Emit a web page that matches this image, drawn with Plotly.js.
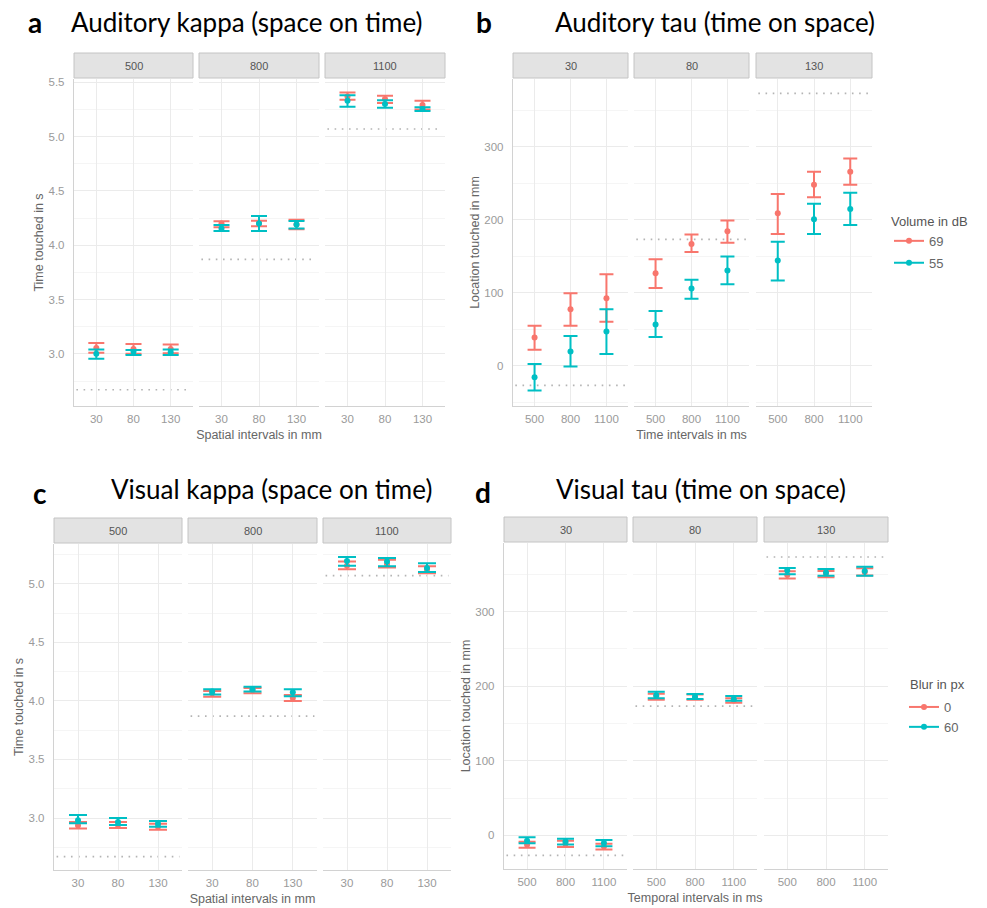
<!DOCTYPE html>
<html>
<head>
<meta charset="utf-8">
<script src="https://cdn.plot.ly/plotly-3.0.1.min.js"></script>
<style>html,body{margin:0;padding:0;background:#fff;}#chart{width:987px;height:908px;}</style>
</head>
<body>
<div id="chart"></div>
<script>
// ---------------- DATA ----------------
const kappaXCats = ['30', '80', '130'];        // spatial intervals (mm)
const kappaFacets = ['500', '800', '1100'];    // facet labels (ms)
const tauXCats = ['500', '800', '1100'];       // temporal intervals (ms)
const tauFacets = ['30', '80', '130'];         // facet labels (mm)

const kappaRef = [2.67, 3.87, 5.07];           // dotted reference lines
const tauRef = [-26.7, 173.3, 373.3];

// a: Auditory kappa, volume 69 dB
const audKappa69Mean = [[3.055, 3.045, 3.045], [4.20, 4.205, 4.19], [5.37, 5.345, 5.29]];
const audKappa69Lo   = [[3.01, 3.00, 3.005],  [4.165, 4.175, 4.147], [5.34, 5.31, 5.25]];
const audKappa69Hi   = [[3.10, 3.09, 3.085],  [4.22, 4.225, 4.235],  [5.405, 5.375, 5.33]];
// a: Auditory kappa, volume 55 dB
const audKappa55Mean = [[3.00, 3.02, 3.015],  [4.155, 4.20, 4.19],   [5.33, 5.30, 5.255]];
const audKappa55Lo   = [[2.955, 2.99, 2.99],  [4.13, 4.13, 4.155],   [5.275, 5.265, 5.235]];
const audKappa55Hi   = [[3.04, 3.035, 3.04],  [4.185, 4.27, 4.222],  [5.38, 5.335, 5.27]];

// b: Auditory tau, volume 69 dB
const audTau69Mean = [[38.8, 77.6, 92.7], [127, 167, 184.5], [209, 248, 266]];
const audTau69Lo   = [[21.9, 54.8, 60.3], [106.8, 156, 168.5], [180.8, 231, 248]];
const audTau69Hi   = [[54.8, 99.5, 125.6], [146, 179.9, 199], [235.6, 266, 284]];
// b: Auditory tau, volume 55 dB
const audTau55Mean = [[-15.5, 19.6, 47], [56.6, 106, 130.6], [144.3, 201, 215]];
const audTau55Lo   = [[-33.8, -0.9, 16.4], [39.7, 92, 111.9], [116.9, 180.8, 193]];
const audTau55Hi   = [[2.7, 41, 77.6], [75, 118, 149.8], [169.9, 222, 237]];

// c: Visual kappa, blur 0 px
const visKappa0Mean = [[2.935, 2.94, 2.925], [4.065, 4.09, 4.025], [5.155, 5.17, 5.12]];
const visKappa0Lo   = [[2.91, 2.915, 2.90],  [4.035, 4.065, 4.00], [5.125, 5.14, 5.09]];
const visKappa0Hi   = [[2.965, 2.965, 2.95], [4.085, 4.11, 4.05],  [5.19, 5.205, 5.15]];
// c: Visual kappa, blur 60 px
const visKappa60Mean = [[2.98, 2.965, 2.95],  [4.08, 4.10, 4.075], [5.195, 5.19, 5.135]];
const visKappa60Lo   = [[2.955, 2.94, 2.925], [4.055, 4.08, 4.04], [5.155, 5.15, 5.10]];
const visKappa60Hi   = [[3.025, 3.00, 2.975], [4.10, 4.12, 4.10],  [5.23, 5.22, 5.175]];

// d: Visual tau, blur 0 px
const visTau0Mean = [[-12.5, -11, -15], [186, 185.5, 181], [349, 350, 353]];
const visTau0Lo   = [[-16.5, -15.5, -19], [182, 182, 178], [344.5, 346, 348.5]];
const visTau0Hi   = [[-8.5, -7, -11], [190, 189, 184], [354, 354.5, 358]];
// d: Visual tau, blur 60 px
const visTau60Mean = [[-7, -8, -10], [188, 186, 183], [355, 352.5, 354.5]];
const visTau60Lo   = [[-10.5, -12, -14.5], [184, 183, 180.5], [350, 348, 348]];
const visTau60Hi   = [[-2.5, -4.5, -6], [192.5, 189.5, 187], [358.5, 357, 360]];

// ---------------- LAYOUT HELPERS ----------------
const W = 987, H = 908;
const px = x => x / W;
const py = y => 1 - y / H;
const RED = '#F8766D', TEAL = '#00BFC4';
const FONT = 'Liberation Sans, Arial, sans-serif';
const TFONT = 'Lato, Open Sans, sans-serif';

const panels = [
  { letter: 'a', title: 'Auditory kappa (space on time)', letterPos: [35, 22], titlePos: [246, 22],
    facetsX: [[74, 193], [199, 319], [325, 445]], yTop: 79, yBot: 406, strip: [53, 78],
    yRange: [2.52, 5.53], dtick: 0.5, minor: 0.25, fmt: '.1f',
    xcats: kappaXCats, facetLabels: kappaFacets, ref: kappaRef, capW: 8,
    xTitle: 'Spatial intervals in mm', yTitle: 'Time touched in s',
    series: [
      { name: '69', color: RED, mean: audKappa69Mean, lo: audKappa69Lo, hi: audKappa69Hi },
      { name: '55', color: TEAL, mean: audKappa55Mean, lo: audKappa55Lo, hi: audKappa55Hi } ] },
  { letter: 'b', title: 'Auditory tau (time on space)', letterPos: [484, 22], titlePos: [715, 22],
    facetsX: [[513, 628], [634, 749], [756, 872]], yTop: 79, yBot: 406, strip: [53, 78],
    yRange: [-55, 393], dtick: 100, minor: 50, fmt: 'd',
    xcats: tauXCats, facetLabels: tauFacets, ref: tauRef, capW: 7,
    xTitle: 'Time intervals in ms', yTitle: 'Location touched in mm',
    legend: 'legend', legendTitle: 'Volume in dB',
    series: [
      { name: '69', color: RED, mean: audTau69Mean, lo: audTau69Lo, hi: audTau69Hi },
      { name: '55', color: TEAL, mean: audTau55Mean, lo: audTau55Lo, hi: audTau55Hi } ] },
  { letter: 'c', title: 'Visual kappa (space on time)', letterPos: [40, 493], titlePos: [271, 489],
    facetsX: [[54, 182], [188, 317], [323, 451]], yTop: 544, yBot: 870, strip: [518, 543],
    yRange: [2.556, 5.34], dtick: 0.5, minor: 0.25, fmt: '.1f',
    xcats: kappaXCats, facetLabels: kappaFacets, ref: kappaRef, capW: 9,
    xTitle: 'Spatial intervals in mm', yTitle: 'Time touched in s',
    series: [
      { name: '0', color: RED, mean: visKappa0Mean, lo: visKappa0Lo, hi: visKappa0Hi },
      { name: '60', color: TEAL, mean: visKappa60Mean, lo: visKappa60Lo, hi: visKappa60Hi } ] },
  { letter: 'd', title: 'Visual tau (time on space)', letterPos: [483, 492], titlePos: [701, 489],
    facetsX: [[504, 627], [633, 757], [764, 888]], yTop: 543, yBot: 869, strip: [517, 542],
    yRange: [-45, 392], dtick: 100, minor: 50, fmt: 'd',
    xcats: tauXCats, facetLabels: tauFacets, ref: tauRef, capW: 8.5,
    xTitle: 'Temporal intervals in ms', yTitle: 'Location touched in mm',
    legend: 'legend2', legendTitle: 'Blur in px',
    series: [
      { name: '0', color: RED, mean: visTau0Mean, lo: visTau0Lo, hi: visTau0Hi },
      { name: '60', color: TEAL, mean: visTau60Mean, lo: visTau60Lo, hi: visTau60Hi } ] }
];

const traces = [];
const layout = {
  width: W, height: H, margin: { l: 0, r: 0, t: 0, b: 0 },
  paper_bgcolor: '#fff', plot_bgcolor: '#fff',
  font: { family: FONT, color: '#555' },
  showlegend: true, shapes: [], annotations: [], hovermode: false
};

panels.forEach((p, pi) => {
  p.facetsX.forEach((fx, fi) => {
    const n = pi * 3 + fi + 1;
    const xk = 'xaxis' + n, yk = 'yaxis' + n;
    layout[xk] = {
      domain: [px(fx[0]), px(fx[1])], anchor: 'y' + n,
      type: 'category', categoryorder: 'array', categoryarray: p.xcats,
      range: [-0.6, 2.6], showgrid: true, gridcolor: '#ebebeb', gridwidth: 1,
      showline: true, linecolor: '#d2d2d2', linewidth: 1.2, ticks: '',
      tickfont: { size: 11.5, color: '#9a9a9a', family: FONT }, ticklabelstandoff: 2,
      zeroline: false, fixedrange: true
    };
    if (fi === 1) {
      layout[xk].title = { text: p.xTitle, font: { size: 12.5, color: '#666', family: FONT }, standoff: 6 };
    }
    layout[yk] = {
      domain: [py(p.yBot), py(p.yTop)], anchor: 'x' + n,
      range: p.yRange, tick0: 0, dtick: p.dtick, tickformat: p.fmt,
      showticklabels: fi === 0, showgrid: true, gridcolor: '#ebebeb', gridwidth: 1,
      minor: { dtick: p.minor, tick0: 0, showgrid: true, gridcolor: '#f3f3f3', gridwidth: 0.8 },
      showline: fi === 0, linecolor: '#d2d2d2', linewidth: 1.2, ticks: '',
      tickfont: { size: 11.5, color: '#9a9a9a', family: FONT }, ticklabelstandoff: 6,
      zeroline: false, fixedrange: true
    };
    if (fi === 0) {
      layout[yk].title = { text: p.yTitle, font: { size: 12.5, color: '#666', family: FONT }, standoff: 2 };
    }
    // strip
    layout.shapes.push({ type: 'rect', xref: 'paper', yref: 'paper',
      x0: px(fx[0]), x1: px(fx[1]), y0: py(p.strip[1]), y1: py(p.strip[0]),
      fillcolor: '#e3e3e3', line: { color: '#c4c4c4', width: 1 } });
    layout.annotations.push({ xref: 'paper', yref: 'paper', showarrow: false,
      x: px((fx[0] + fx[1]) / 2), y: py((p.strip[0] + p.strip[1]) / 2),
      xanchor: 'center', yanchor: 'middle', text: p.facetLabels[fi],
      font: { size: 11, color: '#555', family: FONT } });
    // dotted reference line
    layout.shapes.push({ type: 'line', xref: 'x' + n + ' domain', yref: 'y' + n,
      x0: 0.02, x1: 0.98, y0: p.ref[fi], y1: p.ref[fi], layer: 'below',
      line: { color: '#b4b4b4', width: 1.6, dash: '1.6px,5.6px' } });
    // data
    p.series.forEach(s => {
      const m = s.mean[fi];
      traces.push({
        type: 'scatter', mode: 'markers', x: p.xcats, y: m,
        xaxis: 'x' + n, yaxis: 'y' + n, showlegend: false, hoverinfo: 'skip',
        marker: { color: s.color, size: 6 },
        error_y: { type: 'data', symmetric: false,
          array: s.hi[fi].map((h, i) => h - m[i]),
          arrayminus: s.lo[fi].map((l, i) => m[i] - l),
          color: s.color, thickness: 2, width: p.capW }
      });
    });
  });
  // legend entries
  if (p.legend) {
    const n = pi * 3 + 3;
    p.series.forEach(s => {
      traces.push({ type: 'scatter', mode: 'lines+markers', x: [null], y: [null],
        xaxis: 'x' + n, yaxis: 'y' + n, name: s.name, legend: p.legend, showlegend: true,
        legendgroup: p.legend + '_' + s.name,
        line: { color: s.color, width: 2 }, marker: { color: s.color, size: 6 }, hoverinfo: 'skip' });
    });
  }
  // panel letter and title
  layout.annotations.push({ xref: 'paper', yref: 'paper', showarrow: false,
    x: px(p.letterPos[0]), y: py(p.letterPos[1]), xanchor: 'center', yanchor: 'middle',
    text: '<b>' + p.letter + '</b>', font: { size: 28, color: '#000', family: TFONT } });
  layout.annotations.push({ xref: 'paper', yref: 'paper', showarrow: false,
    x: px(p.titlePos[0]), y: py(p.titlePos[1]), xanchor: 'center', yanchor: 'middle',
    text: p.title, font: { size: 26, color: '#000', family: TFONT } });
});

layout.legend = { x: px(889), y: py(209), xanchor: 'left', yanchor: 'top',
  bgcolor: 'rgba(0,0,0,0)', itemwidth: 30, tracegroupgap: 2,
  title: { text: 'Volume in dB', font: { size: 13, color: '#555', family: FONT } },
  font: { size: 13, color: '#666', family: FONT } };
// second legend: title placed as a text label so the legend box can sit at the right edge
layout.legend2 = { x: px(904), y: py(692), xanchor: 'left', yanchor: 'top',
  bgcolor: 'rgba(0,0,0,0)', itemwidth: 30, tracegroupgap: 0,
  font: { size: 13, color: '#666', family: FONT } };
layout.annotations.push({ xref: 'paper', yref: 'paper', showarrow: false,
  x: px(908), y: py(684), xanchor: 'left', yanchor: 'middle',
  text: 'Blur in px', font: { size: 13, color: '#555', family: FONT } });

Plotly.newPlot('chart', traces, layout, { staticPlot: true, displayModeBar: false });
</script>
</body>
</html>
